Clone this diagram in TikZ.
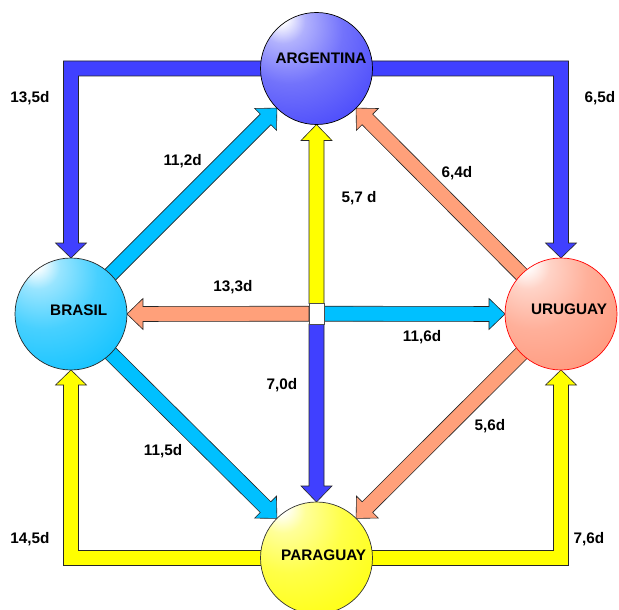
\documentclass[tikz,border=0pt]{standalone}
\usepackage{fontspec}
\setmainfont{Liberation Sans}
\usetikzlibrary{calc,backgrounds}
\definecolor{cBlue}{RGB}{64,64,255}
\definecolor{cCyan}{RGB}{0,192,255}
\definecolor{cSalmon}{RGB}{255,160,122}
\definecolor{cYellow}{RGB}{255,255,0}
\definecolor{bA}{RGB}{60,60,250}
\definecolor{bB}{RGB}{0,190,255}
\definecolor{bU}{RGB}{255,145,115}
\definecolor{bP}{RGB}{255,255,0}
\pgfdeclareradialshading{ballA}{\pgfpoint{-17bp}{24bp}}{color(0bp)=(white); color(3bp)=(white); color(10bp)=(bA!40!white); color(24bp)=(bA!72!white); color(42bp)=(bA!92!white); color(58bp)=(bA); color(85bp)=(bA)}
\pgfdeclareradialshading{ballB}{\pgfpoint{-17bp}{24bp}}{color(0bp)=(white); color(3bp)=(white); color(10bp)=(bB!40!white); color(24bp)=(bB!72!white); color(42bp)=(bB!92!white); color(58bp)=(bB); color(85bp)=(bB)}
\pgfdeclareradialshading{ballU}{\pgfpoint{-17bp}{24bp}}{color(0bp)=(white); color(3bp)=(white); color(10bp)=(bU!40!white); color(24bp)=(bU!72!white); color(42bp)=(bU!92!white); color(58bp)=(bU); color(85bp)=(bU)}
\pgfdeclareradialshading{ballP}{\pgfpoint{-17bp}{24bp}}{color(0bp)=(white); color(3bp)=(white); color(10bp)=(bP!40!white); color(24bp)=(bP!72!white); color(42bp)=(bP!92!white); color(58bp)=(bP); color(85bp)=(bP)}
\newcommand\blockarr[3]{%
  \path ($(#3)!16pt!(#2)$) coordinate (hb);
  \draw[arr, fill=#1] ($(#2)!7.5pt!90:(#3)$) -- ($(hb)!7.5pt!-90:(#2)$) -- ($(hb)!15.5pt!-90:(#2)$) -- (#3) -- ($(hb)!15.5pt!90:(#2)$) -- ($(hb)!7.5pt!90:(#2)$) -- ($(#2)!7.5pt!-90:(#3)$) -- cycle;}
\begin{document}
\begin{tikzpicture}[x=1pt,y=-1pt,
  ball/.style={circle, minimum size=112pt, inner sep=0pt, outer sep=0pt, draw=#1, line width=0.7pt, shade},
  arr/.style={draw=black!85, line width=0.6pt, line join=miter},
  lbl/.style={font=\fontsize{15.3}{18}\selectfont\bfseries, anchor=base, inner sep=0pt},
  ctr/.style={draw=black!70, line width=0.6pt, fill=white, minimum width=15pt, minimum height=20.5pt, inner sep=0pt, outer sep=0pt}]
\useasboundingbox (0,0) rectangle (619,610);
% countries
\node[ball=black, shading=ballA] (A) at (316.5,68.5) {};
\node[ball=black!85, shading=ballB] (B) at (71,314) {};
\node[ball=red, shading=ballU] (U) at (561,314) {};
\node[ball=black!80, shading=ballP] (P) at (316.5,558) {};
\node[ctr] (C) at (316.5,313.7) {};
\node[lbl] (tA) at (321,64) {ARGENTINA};
\node[lbl] (tB) at (78.7,315.6) {BRASIL};
\node[lbl] (tU) at (569,314) {URUGUAY};
\node[lbl] (tP) at (323.7,560.4) {PARAGUAY};
% arrows
\begin{pgfonlayer}{background}
\draw[arr, fill=cBlue] let \p1=(A.center), \p2=(B.north) in
 (\x1,\y1+7.5pt) -- (\x2-7.5pt,\y1+7.5pt) -- (\x2-7.5pt,\y2+15pt) -- (\x2-15.5pt,\y2+15pt) -- (\x2,\y2) -- (\x2+15.5pt,\y2+15pt) -- (\x2+7.5pt,\y2+15pt) -- (\x2+7.5pt,\y1-7.5pt) -- (\x1,\y1-7.5pt) -- cycle;
\draw[arr, fill=cBlue] let \p1=(A.center), \p2=(U.north) in
 (\x1,\y1+7.5pt) -- (\x2+7.5pt,\y1+7.5pt) -- (\x2+7.5pt,\y2+15pt) -- (\x2+15.5pt,\y2+15pt) -- (\x2,\y2) -- (\x2-15.5pt,\y2+15pt) -- (\x2-7.5pt,\y2+15pt) -- (\x2-7.5pt,\y1-7.5pt) -- (\x1,\y1-7.5pt) -- cycle;
\draw[arr, fill=cYellow] let \p1=(P.center), \p2=(B.south) in
 (\x1,\y1-7.5pt) -- (\x2-7.5pt,\y1-7.5pt) -- (\x2-7.5pt,\y2-15pt) -- (\x2-15.5pt,\y2-15pt) -- (\x2,\y2) -- (\x2+15.5pt,\y2-15pt) -- (\x2+7.5pt,\y2-15pt) -- (\x2+7.5pt,\y1+7.5pt) -- (\x1,\y1+7.5pt) -- cycle;
\draw[arr, fill=cYellow] let \p1=(P.center), \p2=(U.south) in
 (\x1,\y1-7.5pt) -- (\x2+7.5pt,\y1-7.5pt) -- (\x2+7.5pt,\y2-15pt) -- (\x2+15.5pt,\y2-15pt) -- (\x2,\y2) -- (\x2-15.5pt,\y2-15pt) -- (\x2-7.5pt,\y2-15pt) -- (\x2-7.5pt,\y1+7.5pt) -- (\x1,\y1+7.5pt) -- cycle;
\blockarr{cCyan}{B.center}{A.225}
\blockarr{cSalmon}{U.center}{A.-45}
\blockarr{cCyan}{B.center}{P.135}
\blockarr{cSalmon}{U.center}{P.45}
\blockarr{cYellow}{C.north}{A.south}
\blockarr{cBlue}{C.south}{P.north}
\blockarr{cSalmon}{C.west}{B.east}
\blockarr{cCyan}{C.east}{U.west}
\end{pgfonlayer}
% labels
\node[lbl] (l1) at (30,102.3) {13,5d};
\node[lbl] (l2) at (600,102.3) {6,5d};
\node[lbl] (l3) at (182.7,165.3) {11,2d};
\node[lbl] (l4) at (359,202.3) {5,7 d};
\node[lbl] (l5) at (457,177.3) {6,4d};
\node[lbl] (l6) at (233,291.3) {13,3d};
\node[lbl] (l7) at (422,341.3) {11,6d};
\node[lbl] (l8) at (282,389.3) {7,0d};
\node[lbl] (l9) at (163,455.3) {11,5d};
\node[lbl] (l10) at (490,430.3) {5,6d};
\node[lbl] (l11) at (30,543.3) {14,5d};
\node[lbl] (l12) at (589,543.3) {7,6d};
\end{tikzpicture}
\end{document}
